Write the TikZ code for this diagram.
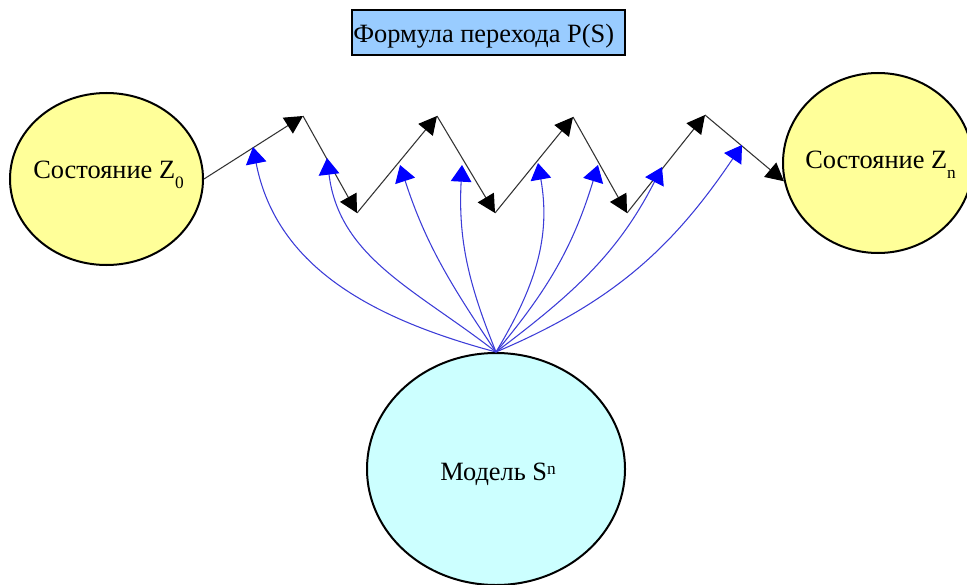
\documentclass[tikz,border=0pt]{standalone}
\usepackage{fontspec}
\setmainfont{Liberation Serif}
\usetikzlibrary{arrows.meta,shapes.geometric}
\definecolor{yel}{RGB}{255,255,153}
\definecolor{cyn}{RGB}{204,255,255}
\definecolor{ttl}{RGB}{153,204,255}
\definecolor{bl}{RGB}{0,0,255}
\definecolor{blline}{RGB}{60,60,215}
\newcommand\mysub[1]{\raisebox{-8pt}{\fontsize{13}{14}\selectfont #1}}
\newcommand\mysup[1]{\raisebox{4pt}{\fontsize{13}{14}\selectfont #1}}
\begin{document}
\begin{tikzpicture}[x=0.75pt,y=-0.75pt,
  state/.style={ellipse, draw=black, line width=1.5pt, fill=yel, inner sep=0},
  lbl/.style={font=\fontsize{19.8}{24}\selectfont, inner sep=0, anchor=base west},
  zz/.style={draw=black!80, line width=0.8pt, -{Triangle[length=13.5pt,width=14pt,color=black]}},
  bla/.style={draw=blline, line width=0.8pt, -{Triangle[length=12.5pt,width=15.5pt,color=bl]}},
]
\useasboundingbox (0,0) rectangle (967,585);
% title
\node[draw=black, line width=1.1pt, fill=ttl, minimum width=204.75pt, minimum height=33.75pt, inner sep=0] (ttl) at (488.5,32.5) {};
\node[lbl] (ttltxt) at (353,43) {Формула перехода P(S)};
% states
\node[state, minimum width=144.75pt, minimum height=129pt] (z0) at (106.5,179) {};
\node[lbl] (z0t) at (33,178) {Состояние Z\mysub{0}};
\node[state, minimum width=142.5pt, minimum height=135pt] (zn) at (878,163) {};
\node[lbl] (znt) at (805,168) {Состояние Z\mysub{n}};
\node[ellipse, draw=black, line width=1.5pt, fill=cyn, inner sep=0, minimum width=193.5pt, minimum height=174pt] (m) at (496,469) {};
\node[lbl] (mt) at (440,480) {Модель S\mysup{n}};
% zigzag
\coordinate (v1) at (303,116);
\coordinate (v2) at (357,213);
\coordinate (v3) at (437,116);
\coordinate (v4) at (495,213);
\coordinate (v5) at (573,117);
\coordinate (v6) at (627,213);
\coordinate (v7) at (705,115);
\draw[zz] (z0.east) -- (v1);
\draw[zz] (v1) -- (v2);
\draw[zz] (v2) -- (v3);
\draw[zz] (v3) -- (v4);
\draw[zz] (v4) -- (v5);
\draw[zz] (v5) -- (v6);
\draw[zz] (v6) -- (v7);
\draw[zz] (v7) -- (zn.191);
% blue arrows
\coordinate (t1) at (253,147);
\coordinate (t2) at (327,158);
\coordinate (t3) at (400,165);
\coordinate (t4) at (462,165);
\coordinate (t5) at (538,163);
\coordinate (t6) at (598,165);
\coordinate (t7) at (662,167);
\coordinate (t8) at (742,145);
\draw[bla] (m.north) to[out=165,in=-79] (t1);
\draw[bla] (m.north) to[out=142,in=-83] (t2);
\draw[bla] (m.north) to[out=124,in=-72] (t3);
\draw[bla] (m.north) to[out=112,in=-93] (t4);
\draw[bla] (m.north) to[out=59,in=-80] (t5);
\draw[bla] (m.north) to[out=50,in=-107] (t6);
\draw[bla] (m.north) to[out=37,in=-117] (t7);
\draw[bla] (m.north) to[out=23,in=-124] (t8);
\end{tikzpicture}
\end{document}
